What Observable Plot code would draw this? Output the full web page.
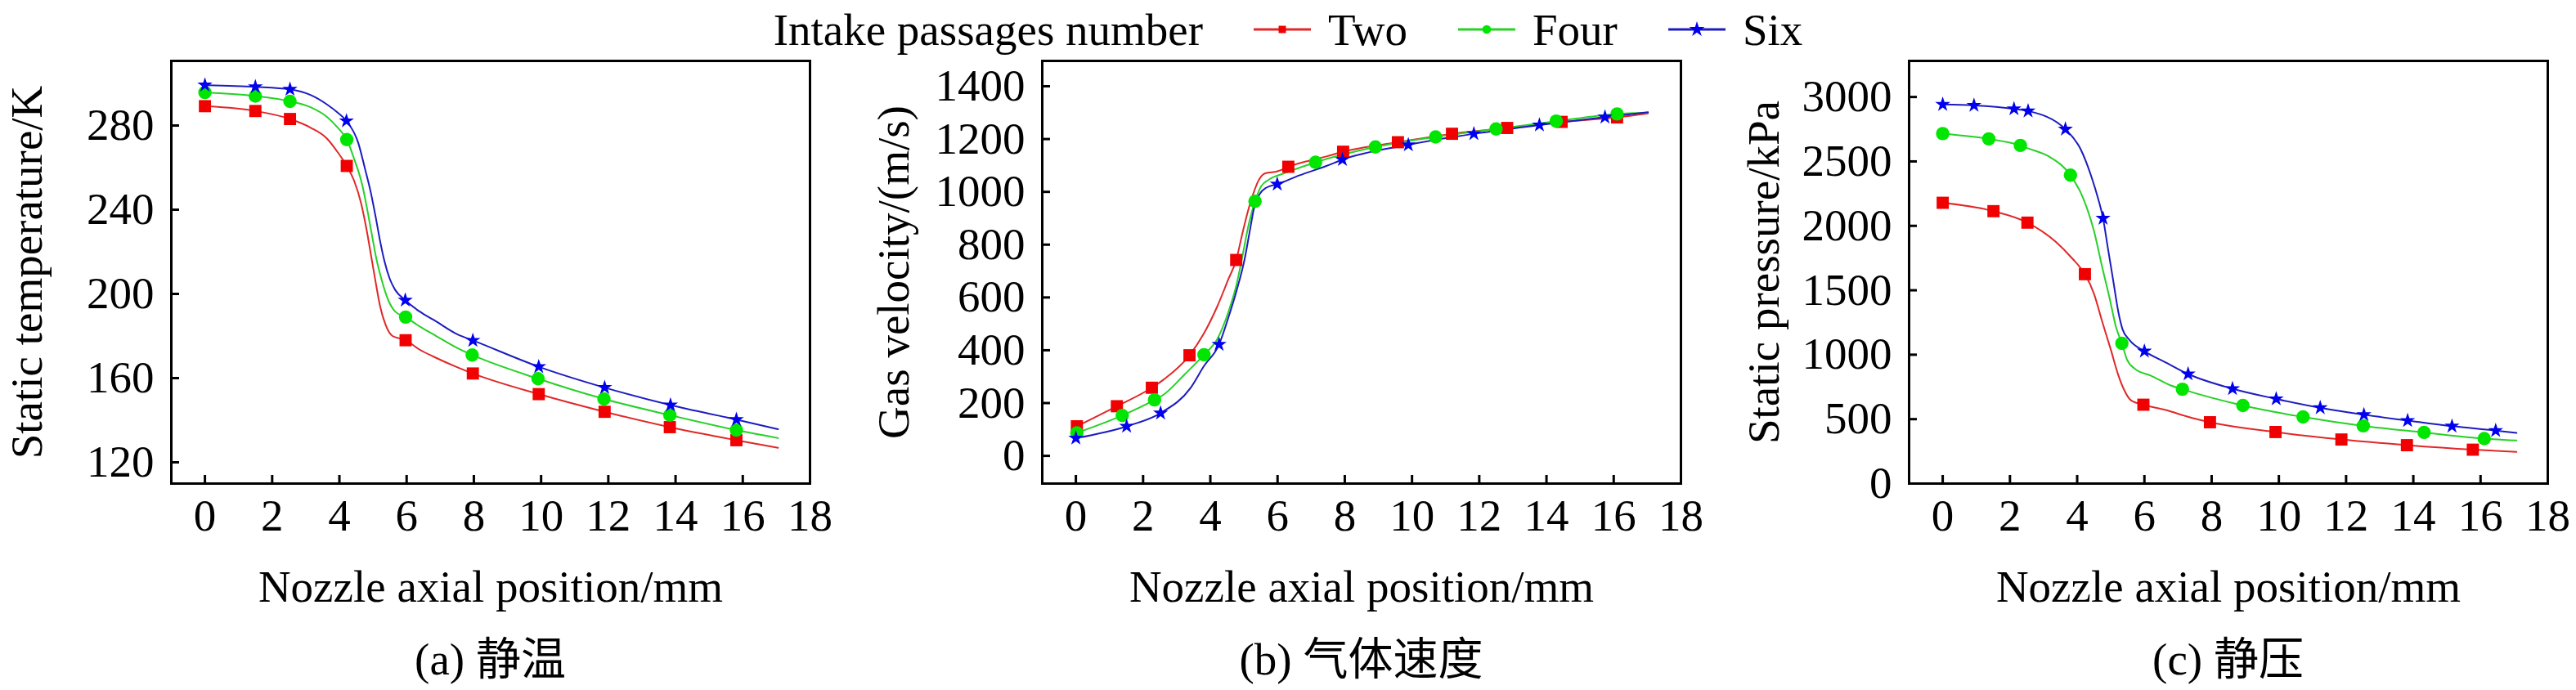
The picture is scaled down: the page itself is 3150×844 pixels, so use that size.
<!DOCTYPE html>
<html><head><meta charset="utf-8">
<script src="https://cdn.jsdelivr.net/npm/d3@7"></script>
<script src="https://cdn.jsdelivr.net/npm/@observablehq/plot@0.6"></script>
<style>
body{margin:0;background:#fff;font-family:"Liberation Serif","Noto Sans CJK SC",serif;}
#root{position:relative;width:3150px;height:844px;overflow:hidden;background:#fff;}
#legend{position:absolute;left:0;top:0;width:3150px;height:72px;display:flex;justify-content:center;align-items:center;font-size:55px;color:#000;}
#legend .item{display:flex;align-items:center;margin-left:62px;}
#legend .item svg{margin-right:21px;}
.panel{position:absolute;top:70px;width:1050px;}
.caption{position:absolute;top:700px;height:74px;line-height:74px;font-size:55px;text-align:center;white-space:nowrap;}
</style></head>
<body><div id="root"><div id="legend"></div></div>
<script>
// ---------- data ----------
const seriesNames = ["Two", "Four", "Six"];
const legendTitle = "Intake passages number";
const xTicks = [0, 2, 4, 6, 8, 10, 12, 14, 16, 18];
const xLabel = "Nozzle axial position/mm";

// (a) static temperature, K
const tempTicks = [120, 160, 200, 240, 280];
const tempTwoMarks = [[0,289.2],[1.5,286.9],[2.53,283.1],[4.22,260.8],[5.97,178.0],[7.97,162.2],[9.93,152.4],[11.89,144.0],[13.83,136.7],[15.81,130.5]];
const tempTwoCurve = [[3.14,279.0],[3.63,273.8],[3.95,267.3],[4.44,253.7],[4.64,243.4],[4.81,230.4],[4.95,217.5],[5.09,204.5],[5.21,194.2],[5.38,185.1],[5.58,180.0],[6.39,173.5],[6.80,170.2],[7.53,165.0],[17.05,126.9]];
const tempFourMarks = [[0,295.7],[1.5,294.0],[2.53,291.5],[4.22,273.3],[5.97,189.0],[7.95,171.0],[9.91,159.7],[11.87,150.1],[13.83,142.4],[15.81,135.3]];
const tempFourCurve = [[3.14,288.7],[3.63,284.1],[3.95,279.0],[4.44,264.1],[4.69,251.1],[4.85,238.2],[4.97,227.8],[5.09,217.5],[5.25,207.1],[5.46,196.8],[5.66,191.6],[6.39,184.5],[6.88,180.0],[7.53,174.1],[17.05,131.5]];
const tempSixMarks = [[0,299.2],[1.5,298.4],[2.53,297.2],[4.21,282.2],[5.96,197.0],[7.97,177.9],[9.93,165.4],[11.89,155.5],[13.85,147.2],[15.81,140.3]];
const tempSixCurve = [[3.14,294.5],[3.63,290.0],[3.95,286.1],[4.56,271.8],[4.77,258.9],[4.93,248.5],[5.09,235.6],[5.21,225.2],[5.33,216.2],[5.50,207.1],[5.66,201.9],[6.39,191.6],[6.80,187.7],[7.53,180.6],[17.05,135.7]];

// (b) gas velocity, m/s
const velTicks = [0, 200, 400, 600, 800, 1000, 1200, 1400];
const velTwoMarks = [[0.03,112],[1.22,188],[2.26,258],[3.38,381],[4.77,742],[6.32,1095],[7.95,1152],[9.58,1188],[11.19,1220],[12.83,1242],[14.45,1265],[16.10,1282]];
const velTwoCurve = [[2.60,288],[3.81,464],[4.21,567],[4.54,670],[4.94,835],[5.10,918],[5.27,990],[5.43,1042],[5.63,1070],[6.0,1078],[7.45,1134],[17.02,1297]];
const velFourMarks = [[0.03,87],[1.38,153],[2.34,212],[3.81,383],[5.33,964],[7.13,1112],[8.91,1170],[10.70,1208],[12.50,1238],[14.29,1268],[16.10,1295]];
const velFourCurve = [[2.60,231],[3.24,309],[4.21,443],[4.54,546],[4.78,649],[4.98,773],[5.14,876],[5.51,1021],[5.75,1047],[6.24,1072],[17.02,1300]];
const velSixMarks = [[0,67],[1.51,112],[2.52,162],[4.26,422],[5.99,1029],[7.93,1122],[9.89,1178],[11.84,1220],[13.79,1253],[15.74,1283]];
const velSixCurve = [[3.41,257],[3.81,340],[4.54,525],[4.78,625],[5.02,745],[5.18,856],[5.30,938],[5.46,990],[5.67,1016],[6.64,1062],[7.45,1098],[17.02,1302]];

// (c) static pressure, kPa
const presTicks = [0, 500, 1000, 1500, 2000, 2500, 3000];
const presTwoMarks = [[0,2179],[1.51,2114],[2.52,2025],[4.23,1625],[5.97,612],[7.95,476],[9.90,400],[11.86,342],[13.81,298],[15.77,263]];
const presTwoCurve = [[3.37,1875],[3.85,1748],[4.50,1473],[4.74,1261],[4.99,1049],[5.23,837],[5.39,731],[5.60,646],[6.61,572],[7.42,509],[17.07,246]];
const presFourMarks = [[0,2716],[1.37,2675],[2.31,2624],[3.80,2393],[5.33,1088],[7.13,732],[8.93,606],[10.72,517],[12.51,448],[14.32,397],[16.11,349]];
const presFourCurve = [[2.55,2600],[3.20,2532],[4.18,2214],[4.50,1960],[4.74,1685],[4.99,1409],[5.15,1219],[5.48,964],[5.72,890],[6.20,837],[6.77,763],[17.07,335]];
const presSixMarks = [[0,2942],[0.93,2935],[2.12,2908],[2.54,2891],[3.65,2750],[4.77,2058],[6.0,1027],[7.30,850],[8.62,736],[9.92,657],[11.23,588],[12.53,534],[13.83,489],[15.15,445],[16.45,411]];
const presSixCurve = [[4.10,2596],[4.42,2384],[4.62,2214],[4.91,1833],[5.07,1579],[5.23,1324],[5.35,1197],[5.56,1113],[6.61,943],[17.07,393]];

// ---------- styles ----------
const markColors = {Two: "#f00000", Four: "#00e600", Six: "#0000f0"};
const lineColors = {Two: "#e02828", Four: "#28d028", Six: "#1c1cc0"};
const symbols = {Two: "square", Four: "circle", Six: "star"};
const radii = {Two: 8.4, Four: 8.2, Six: 5.8};
const FS = 55;

function toRows(pairs, name) { return pairs.map(([x, y]) => ({x, y, s: name})); }

function makePanel(cfg) {
  const marks = [Plot.frame({stroke: "#000", strokeWidth: 3})];
  cfg.series.forEach(([name, mk, cv]) => {
    const rows = toRows(mk.concat(cv), name).sort((a, b) => a.x - b.x);
    marks.push(Plot.line(rows, {x: "x", y: "y", stroke: lineColors[name], strokeWidth: 2, curve: "monotone-x"}));
  });
  cfg.series.forEach(([name, mk]) => {
    marks.push(Plot.dot(toRows(mk, name), {x: "x", y: "y", symbol: symbols[name], r: radii[name], fill: markColors[name], stroke: "none"}));
  });
  marks.push(
    Plot.axisX(xTicks, {tickSize: -10, tickPadding: 28, strokeWidth: 3, fontSize: FS, tickFormat: d3.format("d"), label: null}),
    Plot.axisY(cfg.yTicks, {tickSize: -10, tickPadding: 31, strokeWidth: 3, fontSize: FS, tickFormat: d3.format("d"), label: null}),
    Plot.text([xLabel], {frameAnchor: "bottom", dy: 127, lineAnchor: "middle", fontSize: FS, fill: "#000"}),
    Plot.text([cfg.yLabel], {frameAnchor: "left", dx: cfg.yLabelDx, rotate: -90, lineAnchor: "middle", textAnchor: "middle", fontSize: FS, fill: "#000"})
  );
  const svg = Plot.plot({
    width: 1050, height: 700,
    marginLeft: cfg.ml, marginRight: cfg.mr, marginTop: 4, marginBottom: 179,
    x: {domain: [-1, 18]},
    y: {domain: cfg.yDomain},
    style: {fontFamily: '"Liberation Serif", "Noto Sans CJK SC", serif', color: "#000", background: "transparent", overflow: "visible"},
    marks
  });
  const div = document.createElement("div");
  div.className = "panel";
  div.style.left = cfg.left + "px";
  div.appendChild(svg);
  const cap = document.createElement("div");
  cap.className = "caption";
  cap.style.left = cfg.ml + "px";
  cap.style.width = (1050 - cfg.ml - cfg.mr) + "px";
  cap.textContent = cfg.caption;
  div.appendChild(cap);
  document.getElementById("root").appendChild(div);
}

makePanel({left: 0, ml: 209, mr: 60, yDomain: [109.9, 310.7], yTicks: tempTicks, yLabel: "Static temperature/K", yLabelDx: -176, caption: "(a) 静温",
  series: [["Two", tempTwoMarks, tempTwoCurve], ["Four", tempFourMarks, tempFourCurve], ["Six", tempSixMarks, tempSixCurve]]});
makePanel({left: 1050, ml: 224, mr: 45, yDomain: [-105, 1496], yTicks: velTicks, yLabel: "Gas velocity/(m/s)", yLabelDx: -181, caption: "(b) 气体速度",
  series: [["Two", velTwoMarks, velTwoCurve], ["Four", velFourMarks, velFourCurve], ["Six", velSixMarks, velSixCurve]]});
makePanel({left: 2100, ml: 234, mr: 35, yDomain: [0, 3280], yTicks: presTicks, yLabel: "Static pressure/kPa", yLabelDx: -177, caption: "(c) 静压",
  series: [["Two", presTwoMarks, presTwoCurve], ["Four", presFourMarks, presFourCurve], ["Six", presSixMarks, presSixCurve]]});

// ---------- legend ----------
const legend = document.getElementById("legend");
const t = document.createElement("span");
t.textContent = legendTitle;
legend.appendChild(t);
const legendSizes = {Two: 80, Four: 90, Six: 110};
seriesNames.forEach(name => {
  const item = document.createElement("span");
  item.className = "item";
  const s = d3.create("svg").attr("width", 70).attr("height", 24);
  s.append("line").attr("x1", 0).attr("x2", 70).attr("y1", 12).attr("y2", 12).attr("stroke", lineColors[name]).attr("stroke-width", 3);
  const sym = {square: d3.symbolSquare, circle: d3.symbolCircle, star: d3.symbolStar}[symbols[name]];
  s.append("path").attr("transform", "translate(35,12)").attr("d", d3.symbol(sym, legendSizes[name])()).attr("fill", markColors[name]);
  item.appendChild(s.node());
  const lab = document.createElement("span");
  lab.textContent = name;
  item.appendChild(lab);
  legend.appendChild(item);
});
</script>
</body></html>
